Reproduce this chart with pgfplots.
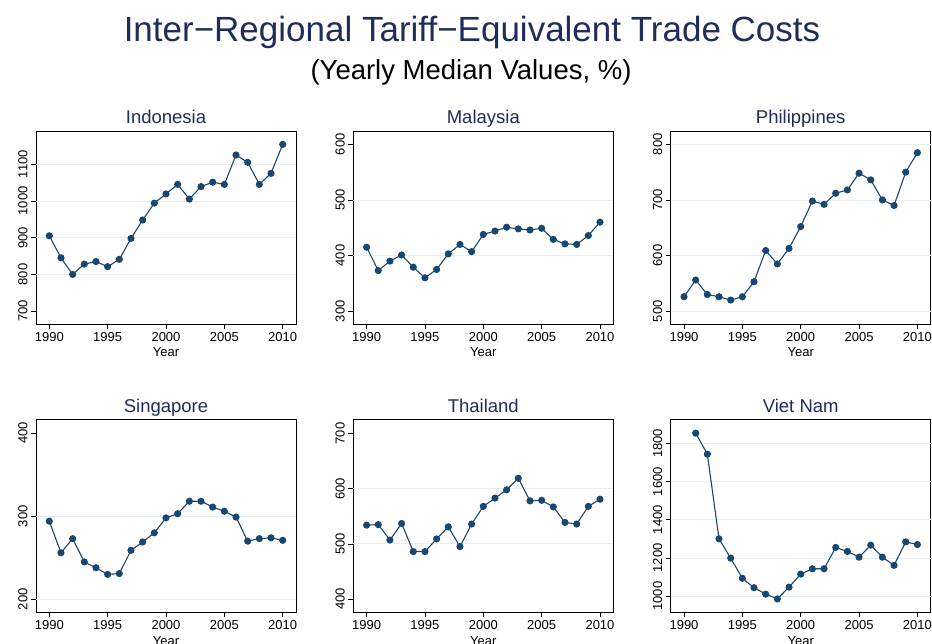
\documentclass[border=0pt]{standalone}
\usepackage{fontspec}
\setmainfont{Liberation Sans}
\usepackage{pgfplots}
\pgfplotsset{compat=1.18}
\definecolor{stnavy}{RGB}{26,71,111}
\definecolor{ttl}{RGB}{30,45,90}
\definecolor{gridc}{RGB}{230,238,241}
\pgfplotsset{panel/.style={
  scale only axis, width=260pt, height=192.5pt, anchor=south west,
  xmin=1988.86, xmax=2011.14, xtick={1990,1995,...,2010},
  tick align=outside, major tick length=5pt,
  every tick/.style={black, line width=0.6pt},
  axis line style={line width=0.8pt},
  xtick pos=left, ytick pos=left,
  /pgf/number format/assume math mode=true,
  /pgf/number format/1000 sep={},
  ticklabel style={font=\fontsize{13}{15}\selectfont},
  yticklabel style={rotate=90, anchor=south},
  xlabel={Year},
  xlabel style={font=\fontsize{13}{15}\selectfont, at={(0.5,0)}, anchor=base, yshift=-33pt},
  title style={font=\fontsize{18.5}{21}\selectfont, text=ttl, at={(0.5,1)}, anchor=base, yshift=1.6pt},
  extra y tick labels={},
  extra y tick style={grid=major, major tick length=0pt},
  major grid style={gridc, line width=0.8pt},
},
ser/.style={stnavy, line width=1.1pt, mark=*, mark size=3pt, mark options={solid, fill=stnavy, draw=stnavy}}}
\begin{document}
\begin{tikzpicture}
\path[use as bounding box] (0pt,0pt) rectangle (932pt,644pt);
\clip (0pt,0pt) rectangle (932pt,644pt);
\node[anchor=base, font=\fontsize{35}{40}\selectfont, text=ttl] at (472pt,602.3pt) {Inter−Regional Tariff−Equivalent Trade Costs};
\node[anchor=base, font=\fontsize{27.5}{31}\selectfont] at (471pt,564pt) {(Yearly Median Values, \%)};

% Indonesia
\begin{axis}[panel, at={(36pt,320pt)}, title={Indonesia}, ymin=665, ymax=1189,
  ytick={700,800,...,1100}, extra y ticks={800,900,1000,1100}]
\addplot[ser] coordinates {(1990,905)(1991,845)(1992,800)(1993,828)(1994,835)(1995,821)(1996,841)(1997,898)(1998,948)(1999,994)(2000,1019)(2001,1045)(2002,1005)(2003,1039)(2004,1051)(2005,1045)(2006,1125)(2007,1105)(2008,1045)(2009,1075)(2010,1154)};
\end{axis}

% Malaysia
\begin{axis}[panel, at={(353.3pt,320pt)}, title={Malaysia}, ymin=277, ymax=623,
  ytick={300,400,500,600}, extra y ticks={400,500}]
\addplot[ser] coordinates {(1990,415)(1991,373)(1992,390)(1993,401)(1994,379)(1995,360)(1996,375)(1997,403)(1998,420)(1999,407)(2000,438)(2001,444)(2002,451)(2003,448)(2004,446)(2005,449)(2006,429)(2007,421)(2008,420)(2009,436)(2010,460)};
\end{axis}

% Philippines
\begin{axis}[panel, at={(670.7pt,320pt)}, title={Philippines}, ymin=477, ymax=823,
  ytick={500,600,700,800}, extra y ticks={500,600,700,800}]
\addplot[ser] coordinates {(1990,526)(1991,556)(1992,530)(1993,526)(1994,520)(1995,526)(1996,553)(1997,609)(1998,585)(1999,613)(2000,652)(2001,698)(2002,692)(2003,712)(2004,718)(2005,748)(2006,736)(2007,700)(2008,690)(2009,750)(2010,785)};
\end{axis}

% Singapore
\begin{axis}[panel, at={(36pt,31.7pt)}, title={Singapore}, ymin=184.4, ymax=416,
  ytick={200,300,400}, extra y ticks={200,300}]
\addplot[ser] coordinates {(1990,294)(1991,256)(1992,273)(1993,245)(1994,238)(1995,230)(1996,231)(1997,259)(1998,269)(1999,280)(2000,298)(2001,303)(2002,318)(2003,318)(2004,311)(2005,306)(2006,299)(2007,270)(2008,273)(2009,274)(2010,271)};
\end{axis}

% Thailand
\begin{axis}[panel, at={(353.3pt,31.7pt)}, title={Thailand}, ymin=376, ymax=725,
  ytick={400,500,600,700}, extra y ticks={500,600}]
\addplot[ser] coordinates {(1990,534)(1991,535)(1992,507)(1993,537)(1994,486)(1995,486)(1996,509)(1997,531)(1998,495)(1999,536)(2000,568)(2001,583)(2002,598)(2003,619)(2004,578)(2005,579)(2006,567)(2007,539)(2008,536)(2009,568)(2010,581)};
\end{axis}

% Viet Nam
\begin{axis}[panel, at={(670.7pt,31.7pt)}, title={Viet Nam}, ymin=915, ymax=1924,
  ytick={1000,1200,...,1800}, extra y ticks={1000,1200,1400,1600,1800}]
\addplot[ser] coordinates {(1991,1854)(1992,1744)(1993,1300)(1994,1199)(1995,1093)(1996,1044)(1997,1010)(1998,985)(1999,1047)(2000,1115)(2001,1143)(2002,1143)(2003,1255)(2004,1234)(2005,1204)(2006,1267)(2007,1204)(2008,1161)(2009,1284)(2010,1270)};
\end{axis}
\end{tikzpicture}
\end{document}
